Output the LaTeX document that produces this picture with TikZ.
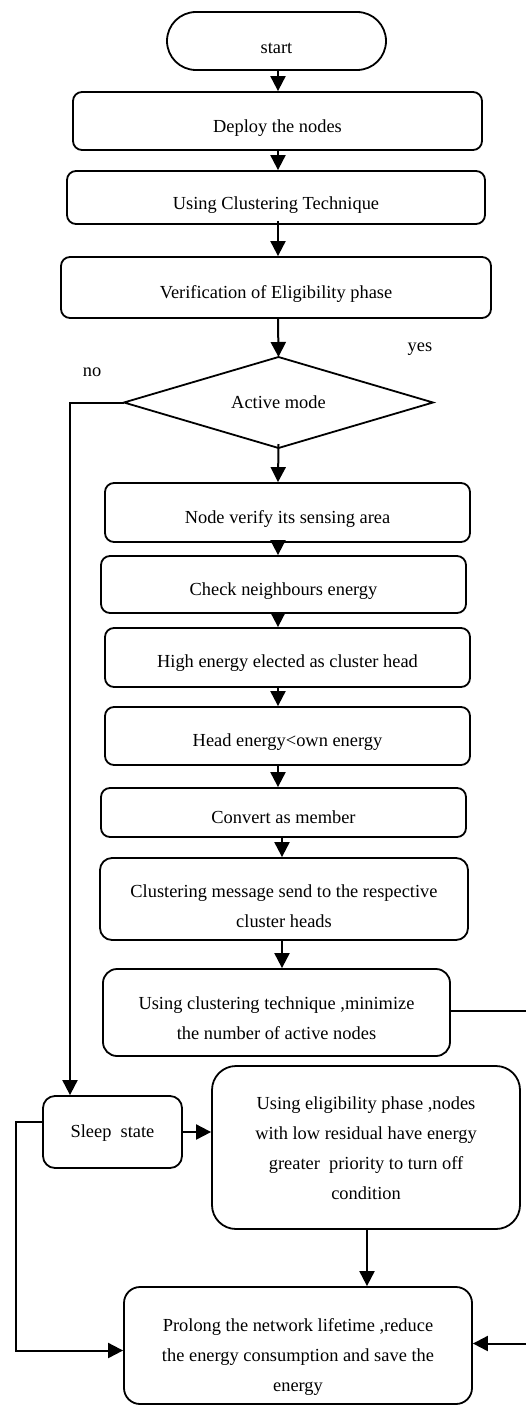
\documentclass[tikz,border=0pt]{standalone}
\usepackage{fontspec}
\setmainfont{Liberation Serif}
\usetikzlibrary{shapes.geometric,arrows.meta,calc}
\newcommand{\dnt}[2]{\raisebox{-#1}[\height][\depth]{\begin{tabular}{@{}c@{}}#2\end{tabular}}}
\begin{document}
\begin{tikzpicture}[x=1pt,y=-1pt,
  every node/.style={font=\fontsize{18.4}{30}\selectfont},
  box/.style={draw,line width=1.8pt,rounded corners=9pt,inner sep=0pt},
  link/.style={line width=2pt},
  arr/.style={line width=2pt,-{Triangle[length=15pt,width=15pt]}}]
\useasboundingbox (0,0) rectangle (526,1405);
\fill[white] (0,0) rectangle (526,1405);
\node[box,rounded corners=29pt,minimum width=219pt,minimum height=58pt] (start) at (276.5,41) {\dnt{7pt}{start}};
\node[box,minimum width=409pt,minimum height=58pt] (deploy) at (277.5,121) {\dnt{5pt}{Deploy the nodes}};
\node[box,minimum width=418pt,minimum height=53pt] (clust) at (276,197.5) {\dnt{6pt}{Using Clustering Technique}};
\node[box,minimum width=430pt,minimum height=61pt] (verif) at (276,287.5) {\dnt{5pt}{Verification of Eligibility phase}};
\draw[line width=1.8pt] (278.5,357) coordinate (dtop) -- (433,402.5) coordinate (dright) -- (278.5,448) coordinate (dbot) -- (124,402.5) coordinate (dleft) -- cycle;
\node (dia) at (278.5,402.5) {Active mode};
\node (yes) at (420,349) {yes};
\node (no) at (92,372) {no};
\node[box,minimum width=365pt,minimum height=59pt] (verify) at (287.5,512.5) {\dnt{5pt}{Node verify its sensing area}};
\node[box,minimum width=365pt,minimum height=57pt] (check) at (283.5,584.5) {\dnt{5pt}{Check neighbours energy}};
\node[box,minimum width=365pt,minimum height=59pt] (high) at (287.5,657.5) {\dnt{4pt}{High energy elected as cluster head}};
\node[box,minimum width=365pt,minimum height=58pt] (head) at (287.5,736) {\dnt{4pt}{Head energy<own energy}};
\node[box,minimum width=365pt,minimum height=49pt] (convert) at (283.5,812.5) {\dnt{5pt}{Convert as member}};
\node[box,rounded corners=12pt,minimum width=368pt,minimum height=82pt] (msg) at (284,899) {\dnt{7pt}{Clustering message send to the respective\\cluster heads}};
\node[box,rounded corners=14pt,minimum width=347pt,minimum height=87pt] (usingc) at (276.5,1012.5) {\dnt{6pt}{Using clustering technique ,minimize\\the number of active nodes}};
\node[box,rounded corners=12pt,minimum width=139pt,minimum height=72pt] (sleep) at (112.5,1132) {\dnt{-1pt}{Sleep~ state}};
\node[box,rounded corners=24pt,minimum width=308pt,minimum height=163pt] (elig) at (366,1147.5) {\dnt{1pt}{Using eligibility phase ,nodes\\with low residual have energy\\greater~ priority to turn off\\condition}};
\node[box,rounded corners=16pt,minimum width=348pt,minimum height=117pt] (prolong) at (298,1345.5) {\dnt{10pt}{Prolong the network lifetime ,reduce\\the energy consumption and save the\\energy}};
\coordinate (ax) at (278,0);
\coordinate (bx) at (282,0);
\coordinate (nox) at (70,0);
\coordinate (lx) at (16,1122);
\coordinate (rx) at (532,1011);
\coordinate (ex) at (367,0);
\draw[arr] (start.south -| ax) -- (deploy.north -| ax);
\draw[arr] (deploy.south -| ax) -- (clust.north -| ax);
\draw[arr] ([yshift=4pt]clust.south -| ax) -- (verif.north -| ax);
\draw[arr] (verif.south -| ax) -- (dtop);
\draw[arr] ([yshift=4pt]dbot) -- (verify.north -| ax);
\draw[arr] (verify.south -| ax) -- (check.north -| ax);
\draw[arr] (check.south -| ax) -- (high.north -| ax);
\draw[arr] (high.south -| ax) -- (head.north -| ax);
\draw[arr] (head.south -| ax) -- (convert.north -| ax);
\draw[arr] (convert.south -| bx) -- (msg.north -| bx);
\draw[arr] (msg.south -| bx) -- (usingc.north -| bx);
\draw[arr] (dleft) -| (sleep.north -| nox);
\draw[arr] (sleep.east) -- (elig.west |- sleep.east);
\draw[arr] (elig.south -| ex) -- (prolong.north -| ex);
\draw[arr] (sleep.west |- lx) -- (lx) |- ([yshift=-5pt]prolong.west);
\draw[arr] (usingc.east |- rx) -- (rx) |- ([yshift=2pt]prolong.east);
\end{tikzpicture}
\end{document}
